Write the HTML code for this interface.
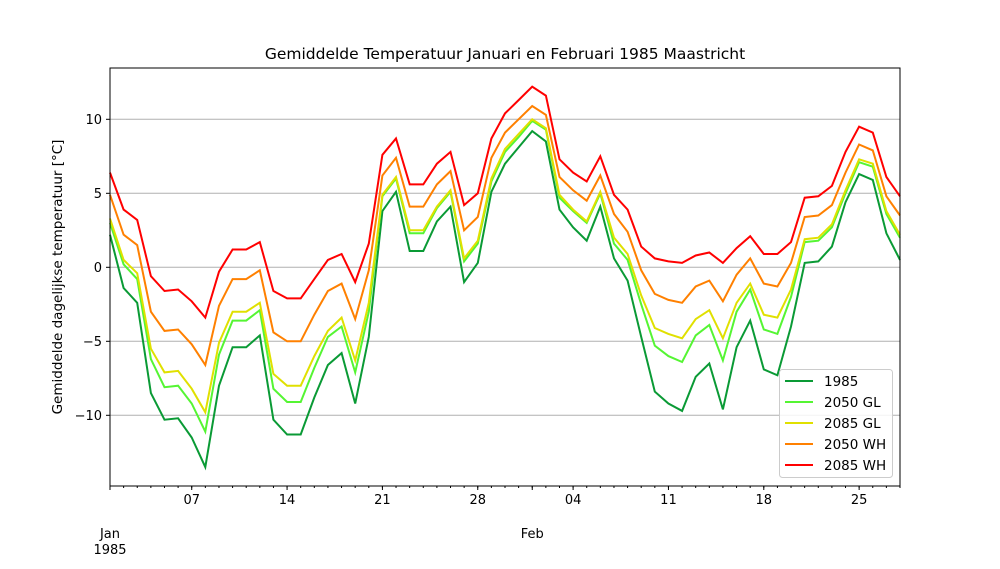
<!DOCTYPE html>
<html><head><meta charset="utf-8"><style>
body{margin:0;background:#fff;font-family:"Liberation Sans","DejaVu Sans",sans-serif;}
</style></head><body>
<svg id="chart" width="1000" height="564" xmlns="http://www.w3.org/2000/svg" font-family="DejaVu Sans, Liberation Sans, sans-serif"></svg>
<script>
const yTicks=[-10,-5,0,5,10];
const xTickDays=[6,13,20,27,34,41,48,55];
const xTickLabels=["07","14","21","28","04","11","18","25"];
const seriesNames=["1985","2050 GL","2085 GL","2050 WH","2085 WH"];
const seriesColors=["#0a9a35","#55f533","#e0e000","#ff8000","#ff0000"];
const s1985=[2.2,-1.4,-2.4,-8.5,-10.3,-10.2,-11.5,-13.5,-8.0,-5.4,-5.4,-4.6,-10.3,-11.3,-11.3,-8.8,-6.6,-5.8,-9.2,-4.7,3.8,5.1,1.1,1.1,3.1,4.1,-1.0,0.3,5.1,7.0,8.1,9.2,8.5,3.9,2.7,1.8,4.1,0.6,-0.9,-4.7,-8.4,-9.2,-9.7,-7.4,-6.5,-9.6,-5.4,-3.6,-6.9,-7.3,-4.0,0.3,0.4,1.4,4.4,6.3,5.9,2.3,0.5];
const s2050GL=[3.0,0.2,-0.8,-6.2,-8.1,-8.0,-9.2,-11.1,-5.9,-3.6,-3.6,-2.9,-8.2,-9.1,-9.1,-6.8,-4.7,-4.0,-7.1,-3.0,4.8,6.0,2.3,2.3,4.0,5.1,0.4,1.6,5.8,7.8,8.8,9.9,9.3,4.7,3.8,3.0,5.0,1.6,0.5,-2.5,-5.3,-6.0,-6.4,-4.6,-3.9,-6.3,-3.0,-1.5,-4.2,-4.5,-2.0,1.7,1.8,2.7,5.0,7.1,6.8,3.6,2.0];
const s2085GL=[3.3,0.5,-0.4,-5.5,-7.1,-7.0,-8.2,-9.8,-5.1,-3.0,-3.0,-2.4,-7.2,-8.0,-8.0,-6.0,-4.3,-3.4,-6.3,-2.4,4.9,6.1,2.5,2.5,4.1,5.2,0.6,1.8,6.0,8.0,9.0,10.0,9.4,4.9,3.9,3.1,5.1,2.0,0.9,-1.9,-4.1,-4.5,-4.8,-3.5,-2.9,-4.8,-2.4,-1.1,-3.2,-3.4,-1.5,1.9,2.0,2.9,5.2,7.3,7.0,3.8,2.2];
const s2050WH=[4.9,2.2,1.5,-3.0,-4.3,-4.2,-5.2,-6.6,-2.6,-0.8,-0.8,-0.2,-4.4,-5.0,-5.0,-3.2,-1.6,-1.1,-3.5,-0.2,6.2,7.4,4.1,4.1,5.6,6.5,2.5,3.4,7.4,9.1,10.0,10.9,10.3,6.1,5.2,4.5,6.2,3.6,2.4,-0.2,-1.8,-2.2,-2.4,-1.3,-0.9,-2.3,-0.5,0.6,-1.1,-1.3,0.3,3.4,3.5,4.2,6.4,8.3,7.9,4.8,3.5];
const s2085WH=[6.4,3.9,3.2,-0.6,-1.6,-1.5,-2.3,-3.4,-0.3,1.2,1.2,1.7,-1.6,-2.1,-2.1,-0.8,0.5,0.9,-1.0,1.6,7.6,8.7,5.6,5.6,7.0,7.8,4.2,5.0,8.7,10.4,11.3,12.2,11.6,7.3,6.4,5.8,7.5,4.9,3.9,1.4,0.6,0.4,0.3,0.8,1.0,0.3,1.3,2.1,0.9,0.9,1.7,4.7,4.8,5.5,7.8,9.5,9.1,6.1,4.8];
const allSeries=[s1985,s2050GL,s2085GL,s2050WH,s2085WH];

const L=110,R=900,T=68,B=486;
const nDays=59;
const xs=i=>L+(R-L)*i/(nDays-1);
const ys=v=>267.3-v*14.8;
const svg=document.getElementById('chart');
const NS="http://www.w3.org/2000/svg";
function mk(tag,attrs,parent){const e=document.createElementNS(NS,tag);for(const k in attrs)e.setAttribute(k,attrs[k]);(parent||svg).appendChild(e);return e;}

// grid + y ticks
yTicks.forEach(v=>{
 const g=mk('line',{x1:L,x2:R,y1:ys(v),y2:ys(v),stroke:'#b0b0b0','stroke-width':1});
 
 
 const t=mk('line',{x1:L-4,x2:L,y1:ys(v),y2:ys(v),stroke:'#000'});
 
 
 const tx=mk('text',{x:L-8,y:ys(v)+4.5,'text-anchor':'end','font-size':13});
 tx.textContent=String(v).replace('-','−');
 
 
});
// minor x ticks
for(let i=0;i<nDays;i++){
 const t=mk('line',{x1:xs(i),x2:xs(i),y1:B,y2:B+2,stroke:'#000'});
 
 
}
[0,31].forEach(i=>{
 const t=mk('line',{x1:xs(i),x2:xs(i),y1:B,y2:B+4,stroke:'#000'});
 
 
});
xTickDays.forEach((d,k)=>{
 const t=mk('line',{x1:xs(d),x2:xs(d),y1:B,y2:B+4,stroke:'#000'});
 
 
 const tx=mk('text',{x:xs(d),y:B+18,'text-anchor':'middle','font-size':13});
 tx.textContent=xTickLabels[k];
 
 
});
const m1=mk('text',{x:xs(0),y:538,'text-anchor':'middle','font-size':13});m1.textContent='Jan';


const m2=mk('text',{x:xs(0),y:554,'text-anchor':'middle','font-size':13});m2.textContent='1985';


const m3=mk('text',{x:xs(31),y:538,'text-anchor':'middle','font-size':13});m3.textContent='Feb';



// series
allSeries.forEach((s,k)=>{
 const p=mk('polyline',{points:s.map((v,i)=>xs(i).toFixed(1)+','+ys(v).toFixed(1)).join(' '),fill:'none',stroke:seriesColors[k],'stroke-width':2,'stroke-linejoin':'miter'});
 
 
});
// frame
const fr=mk('rect',{x:L,y:T,width:R-L,height:B-T,fill:'none',stroke:'#000','stroke-width':1});



// titles
const ti=mk('text',{x:505,y:59,'text-anchor':'middle','font-size':15.5});ti.textContent='Gemiddelde Temperatuur Januari en Februari 1985 Maastricht';


const yt=mk('text',{x:0,y:0,'text-anchor':'middle','font-size':13.5,transform:'translate(62,277) rotate(-90)'});yt.textContent='Gemiddelde dagelijkse temperatuur [°C]';



// legend
const lg=mk('g',{});


mk('rect',{x:779.5,y:369.5,width:113,height:108,rx:3,fill:'#fff','fill-opacity':0.85,stroke:'#ccc'},lg);
seriesNames.forEach((n,k)=>{
 const y=381+k*21;
 const e=mk('g',{},lg);
 
 
 mk('line',{x1:785,x2:813,y1:y,y2:y,stroke:seriesColors[k],'stroke-width':2},e);
 const t=mk('text',{x:824,y:y+5,'font-size':13.5},e);t.textContent=n;
});
</script>
</body></html>
